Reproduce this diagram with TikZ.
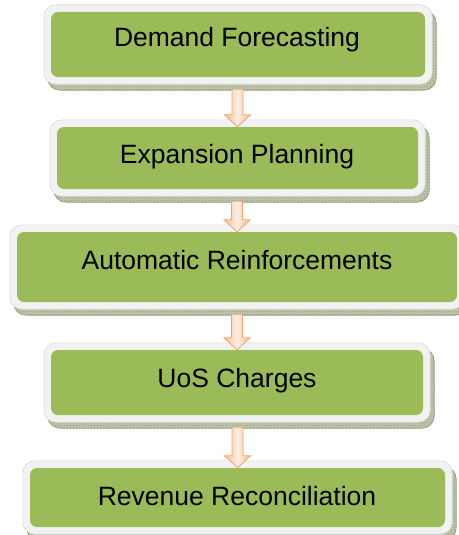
\documentclass[tikz,border=0pt]{standalone}
\usepackage{fontspec}
\setmainfont{Liberation Sans}
\usetikzlibrary{backgrounds,patterns,calc}
\definecolor{boxgreen}{HTML}{9BBB59}
\definecolor{ringgray}{HTML}{F2F2F2}
\definecolor{ringedge}{HTML}{DADADA}
\definecolor{shadowc}{HTML}{BFC7AC}
\definecolor{shadowedge}{HTML}{8F9A78}
\definecolor{shadowdot}{HTML}{8A9670}
\definecolor{arrowedge}{HTML}{F2A46C}
\definecolor{arrowside}{HTML}{F9BE92}
\definecolor{arrowmid}{HTML}{FEEEE2}
\tikzset{
  greenbox/.style={rectangle, rounded corners=7pt, fill=boxgreen, draw=none, inner sep=0pt},
  outerring/.style={fill=ringgray, draw=ringedge, line width=0.6pt, rounded corners=12pt},
  shadowbox/.style={fill=shadowc, draw=shadowedge, line width=0.6pt, rounded corners=12pt,
    postaction={pattern=crosshatch dots, pattern color=shadowdot}},
  boxtext/.style={anchor=base, inner sep=0pt, font=\fontsize{26.5}{31}\selectfont, text=black},
  flowarrowshape/.style={draw=arrowedge, line width=0.8pt, shading=axis,
    left color=arrowside, right color=arrowside, middle color=arrowmid, shading angle=90}
}
\newcommand\flowarr[2]{%
  \path[flowarrowshape]
    ([xshift=-5.5pt,yshift=-12pt]#2.north |- #1.south) --
    ([xshift=-5.5pt,yshift=12pt]#2.north) --
    ([xshift=-13pt,yshift=12pt]#2.north) --
    (#2.north) --
    ([xshift=13pt,yshift=12pt]#2.north) --
    ([xshift=5.5pt,yshift=12pt]#2.north) --
    ([xshift=5.5pt,yshift=-12pt]#2.north |- #1.south) -- cycle;}
\begin{document}
\begin{tikzpicture}[x=1pt,y=-1pt]
\useasboundingbox (0,0) rectangle (458,535);
\node[greenbox, minimum width=374pt, minimum height=65pt] (b1) at (238,44.5) {};
\node[greenbox, minimum width=361pt, minimum height=62pt] (b2) at (237.5,158) {};
\node[greenbox, minimum width=440pt, minimum height=70pt] (b3) at (237,267) {};
\node[greenbox, minimum width=372pt, minimum height=65pt] (b4) at (237,382.5) {};
\node[greenbox, minimum width=415pt, minimum height=59pt] (b5) at (237.5,497.5) {};
\begin{scope}[on background layer]
  \foreach \b in {b1,b2,b3,b4,b5} {
    \path[shadowbox] ([shift={(-3,-1)}]\b.north west) rectangle ([shift={(11,13)}]\b.south east);
    \path[outerring] ([shift={(-7,-7)}]\b.north west) rectangle ([shift={(7,7)}]\b.south east);
  }
\end{scope}
\node[boxtext] (t1) at (237,47) {Demand Forecasting};
\node[boxtext] (t2) at (237,163) {Expansion Planning};
\node[boxtext] (t3) at (237,269) {Automatic Reinforcements};
\node[boxtext] (t4) at (237,387) {UoS Charges};
\node[boxtext] (t5) at (237,505) {Revenue Reconciliation};
\flowarr{b1}{b2}
\flowarr{b2}{b3}
\flowarr{b3}{b4}
\flowarr{b4}{b5}
\end{tikzpicture}
\end{document}
